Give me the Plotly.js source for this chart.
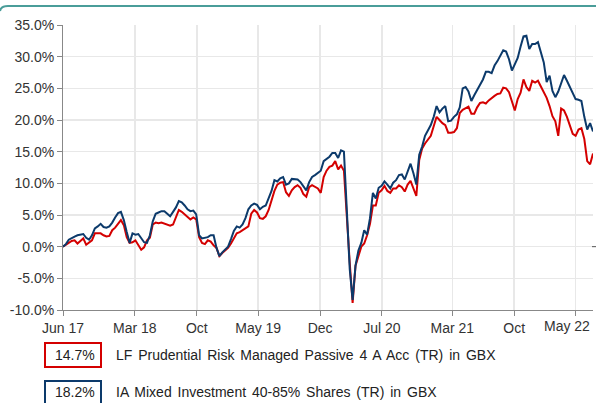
<!DOCTYPE html>
<html><head><meta charset="utf-8">
<script src="https://cdn.plot.ly/plotly-3.0.1.min.js"></script>
<style>html,body{margin:0;padding:0;background:#fff}#chart{width:596px;height:403px}</style>
</head><body><div id="chart"></div>
<script>
const startDate = '2017-06-26';
const stepDays = 10;
const fundName = 'LF Prudential Risk Managed Passive 4 A Acc (TR) in GBX';
const sectorName = 'IA Mixed Investment 40-85% Shares (TR) in GBX';
const finalLabels = ['14.7%', '18.2%'];

const fundReturn = [
0.0,0.3,0.7,0.9,1.0,0.5,0.9,1.3,0.3,0.6,
1.0,2.1,2.1,2.1,1.8,1.6,1.7,2.6,3.0,3.7,
4.2,3.4,1.5,0.6,0.7,1.0,0.2,-0.5,-0.1,1.0,
1.4,3.5,3.8,3.7,3.8,3.6,3.4,3.3,3.5,4.6,
5.8,5.5,5.1,4.8,4.3,4.6,4.3,1.5,0.6,0.4,
1.0,0.8,0.2,-0.2,-1.5,-1.0,-0.6,-0.2,0.5,1.3,
2.1,2.3,2.6,2.9,3.2,5.2,5.8,5.4,4.5,4.4,
4.8,5.8,7.4,8.8,9.8,10.1,10.2,8.6,8.0,8.9,
9.4,9.7,9.3,8.3,7.9,9.4,9.7,9.4,9.2,8.5,
11.0,12.0,12.6,12.8,13.5,12.2,12.8,12.0,4.0,-2.5,
-8.9,-3.0,-1.5,0.0,0.5,1.8,3.6,6.5,6.5,8.5,
8.9,9.6,8.8,8.5,9.2,9.2,9.7,9.4,8.7,9.8,
10.4,9.2,8.0,13.7,15.5,16.3,16.9,17.5,19.0,20.5,
20.0,19.5,19.2,18.0,18.0,18.1,18.7,21.1,21.6,21.8,
22.1,21.0,21.0,22.0,22.7,22.8,22.6,23.1,23.5,23.8,
24.1,24.2,25.1,25.0,24.4,23.0,21.5,23.3,24.3,26.4,
25.2,24.6,26.2,25.9,26.2,25.3,24.4,23.5,22.2,20.6,
19.8,17.5,21.8,21.5,20.5,19.0,17.8,17.5,18.5,18.7,
17.0,13.5,13.0,14.7
];

const sectorReturn = [
0.0,0.4,1.1,1.4,1.6,1.8,1.9,2.0,1.4,1.1,
1.8,2.9,3.2,3.6,3.1,3.0,3.2,3.8,4.6,5.3,
5.5,4.2,2.3,0.6,2.1,1.9,2.0,1.4,0.7,0.6,
1.8,4.0,5.2,5.4,5.6,5.6,5.2,4.8,5.5,6.2,
7.2,7.0,6.5,5.9,5.6,5.7,5.1,1.8,1.3,1.4,
1.5,1.8,1.8,-0.2,-1.5,-0.9,-0.4,0.0,1.2,2.5,
3.2,3.0,3.5,4.5,5.9,6.5,6.8,6.6,5.9,6.3,
6.5,7.6,8.8,10.5,10.3,10.8,11.0,9.8,10.0,10.7,
10.6,10.6,10.2,9.5,8.9,10.2,11.0,11.3,11.7,12.0,
13.5,13.9,14.2,14.8,14.8,14.0,15.2,15.0,6.0,-3.5,
-8.4,-3.0,-0.6,0.6,2.6,1.9,4.5,8.5,7.6,9.3,
9.6,10.3,9.8,9.2,10.1,10.5,11.3,11.4,10.6,12.0,
13.1,11.6,9.8,14.5,15.8,17.5,18.4,19.2,20.5,22.2,
21.2,21.8,22.2,19.8,19.9,20.5,20.9,22.0,25.0,25.2,
24.5,23.0,23.9,24.8,25.6,26.4,27.6,27.6,27.4,28.6,
29.3,30.1,31.0,30.8,29.6,27.8,28.9,29.8,31.6,33.2,
33.3,31.2,32.0,32.0,32.3,30.8,29.1,26.0,27.0,24.6,
23.6,24.5,26.0,27.1,26.2,25.3,24.2,23.3,23.2,23.0,
20.5,18.5,19.5,18.2
];

const tickDates = ['2017-06-26','2018-03-01','2018-10-01','2019-05-01','2019-12-01','2020-07-01','2021-03-01','2021-10-01','2022-05-01'];
const tickLabels = ['Jun 17','Mar 18','Oct','May 19','Dec','Jul 20','Mar 21','Oct','May 22'];
const yTicks = [-10,-5,0,5,10,15,20,25,30,35];

function addDays(s, n){const d=new Date(s+'T00:00:00Z');d.setUTCDate(d.getUTCDate()+n);return d.toISOString().slice(0,10);}
const dates = fundReturn.map((_, i) => addDays(startDate, i*stepDays));

const RED = '#d40000', NAVY = '#0c3a6b', TEAL = '#4a9d99';
const FONT = 'Liberation Sans, Arial, sans-serif';
// plot area in pixels
const L = 63, R = 593, T = 25, B = 310;
const px = X => (X - L) / (R - L);
const py = Y => (B - Y) / (B - T);

const traces = [
  {x: dates, y: fundReturn, type: 'scatter', mode: 'lines', name: fundName,
   line: {color: RED, width: 2}, hoverinfo: 'skip'},
  {x: dates, y: sectorReturn, type: 'scatter', mode: 'lines', name: sectorName,
   line: {color: NAVY, width: 2}, hoverinfo: 'skip'}
];

const shapes = [
  {type: 'path', xref: 'paper', yref: 'paper',
   path: `M ${px(0)},${py(11)} Q ${px(1)},${py(6)} ${px(8)},${py(6)} L ${px(596)},${py(6)}`,
   line: {color: TEAL, width: 2}},
  {type: 'line', xref: 'paper', yref: 'y', x0: px(592), x1: px(596), y0: 0, y1: 0,
   line: {color: '#555', width: 1}},
  {type: 'rect', xref: 'paper', yref: 'paper', x0: px(45), x1: px(101), y0: py(367), y1: py(343),
   line: {color: RED, width: 2}, fillcolor: '#fff'},
  {type: 'rect', xref: 'paper', yref: 'paper', x0: px(45), x1: px(101), y0: py(406), y1: py(381),
   line: {color: NAVY, width: 2}, fillcolor: '#fff'}
];

const annFont = {family: FONT, size: 14, color: '#222'};
const spaced = t => '<span style="word-spacing:2px">' + t + '</span>';
const lastTick = tickLabels.length - 1;
const annotations = [
  {xref: 'paper', yref: 'paper', x: px(97), y: py(355), text: finalLabels[0], showarrow: false, xanchor: 'right', yanchor: 'middle', font: annFont},
  {xref: 'paper', yref: 'paper', x: px(114), y: py(355), text: spaced(fundName), showarrow: false, xanchor: 'left', yanchor: 'middle', font: annFont},
  {xref: 'paper', yref: 'paper', x: px(97), y: py(392), text: finalLabels[1], showarrow: false, xanchor: 'right', yanchor: 'middle', font: annFont},
  {xref: 'paper', yref: 'paper', x: px(114), y: py(392), text: spaced(sectorName), showarrow: false, xanchor: 'left', yanchor: 'middle', font: annFont},
  {xref: 'x', yref: 'paper', x: tickDates[lastTick], xshift: -9, y: py(316), yanchor: 'top', text: tickLabels[lastTick], showarrow: false,
   font: {family: FONT, size: 14, color: '#333'}}
];

const layout = {
  width: 596, height: 403,
  margin: {l: L, r: 596 - R, t: T, b: 403 - B, pad: 0},
  paper_bgcolor: '#fff', plot_bgcolor: '#fff',
  showlegend: false,
  font: {family: FONT, size: 14, color: '#333'},
  xaxis: {type: 'date', range: [dates[0], dates[dates.length - 1]],
    tickmode: 'array', tickvals: tickDates,
    ticktext: tickLabels.map((t, i) => i === lastTick ? '' : t),
    showgrid: true, gridcolor: '#e8e8e8', gridwidth: 1.5,
    showline: true, linecolor: '#888', linewidth: 1,
    ticks: 'outside', ticklen: 5, tickcolor: '#888',
    tickfont: {family: FONT, size: 14, color: '#333'}, zeroline: false, fixedrange: true},
  yaxis: {range: [-10, 35], tickmode: 'array', tickvals: yTicks,
    ticktext: yTicks.map(v => v.toFixed(1) + '%'),
    showgrid: true, gridcolor: '#e8e8e8', gridwidth: 1.5,
    showline: true, linecolor: '#888', linewidth: 1,
    ticks: 'outside', ticklen: 5, tickcolor: '#888',
    tickfont: {family: FONT, size: 14, color: '#333'}, zeroline: false, fixedrange: true},
  shapes: shapes,
  annotations: annotations
};

Plotly.newPlot('chart', traces, layout, {staticPlot: true, displayModeBar: false});
</script>
</body></html>
